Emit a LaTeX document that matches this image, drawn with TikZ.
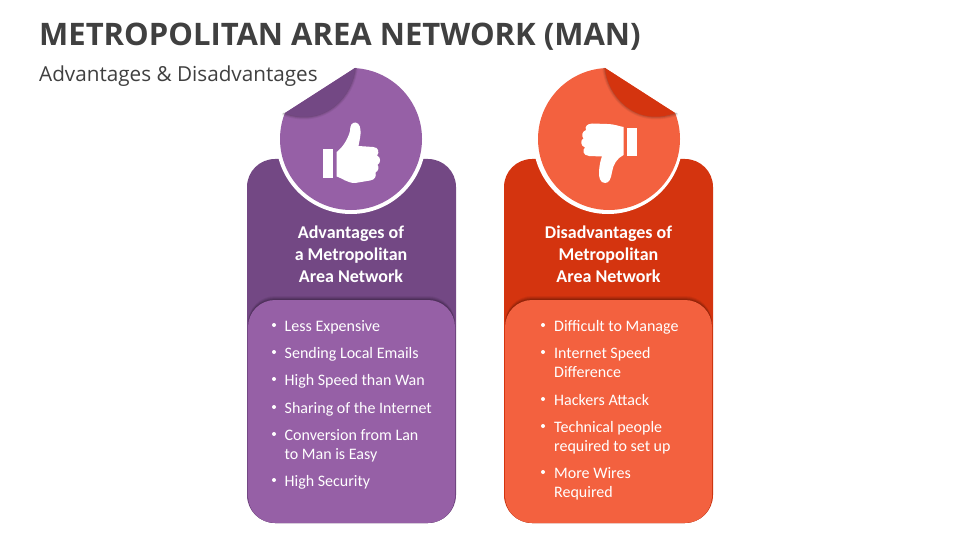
\documentclass[tikz,border=0pt]{standalone}
\usepackage{fontspec}
\setmainfont{Carlito}
\newfontfamily\titlefont{Open Sans}
\usetikzlibrary{calc}
\definecolor{pd}{HTML}{734884}
\definecolor{pl}{HTML}{9660A6}
\definecolor{rd}{HTML}{D4340F}
\definecolor{rl}{HTML}{F3613F}
\definecolor{ink}{HTML}{404040}
\tikzset{
  head/.style={font=\fontsize{18}{22}\selectfont\bfseries,text=white,align=center,inner sep=0pt},
  item/.style={font=\fontsize{16}{19}\selectfont,text=white,align=left,anchor=north west,inner sep=0pt},
  dot/.style={circle,fill=white,inner sep=0pt,minimum size=4pt},
}
\newcommand{\panel}[3]{% x offset, dark, light
  \fill[#2,rounded corners=28pt] (#1+247,159) rectangle (#1+456,523);
  \foreach \w/\o in {4/.06,3/.08,2/.1,1/.12}
    \fill[black,opacity=\o,rounded corners=27pt] (#1+248,300-\w) rectangle (#1+455,523);
  \fill[#3,rounded corners=27pt] (#1+248,300) rectangle (#1+455,523);
  \fill[white] (#1+351,139) circle (75);
}
\begin{document}
\begin{tikzpicture}[x=1pt,y=-1pt]
\useasboundingbox (0,0) rectangle (960,540);
\fill[white] (0,0) rectangle (960,540);
\panel{0}{pd}{pl}
\panel{257}{rd}{rl}
\foreach \sx/\ox/\da/\li in {1/0/pd/pl,-1/960/rd/rl}{
 \begin{scope}[shift={(\ox,0)},xscale=\sx]
  \begin{scope}
   \clip (285,113) -- (355,68) -- (430,60) -- (430,220) -- (270,220) -- (270,113) -- cycle;
   \fill[\li] (351,139) circle (71);
   \foreach \w/\o in {6/.06,4/.08,2/.12}
    \draw[black,opacity=\o,line width=\w pt] (355,66) .. controls (353,95) and (325,128) .. (283,112.5);
  \end{scope}
  \fill[\da] (355,68) .. controls (353,95) and (325,128) .. (285,113) -- cycle;
 \end{scope}
}
\node[anchor=west,inner sep=0pt,text=ink,font=\titlefont\fontsize{31}{36}\selectfont\bfseries] (title) at (39,37) {METROPOLITAN AREA NETWORK (MAN)};
\node[anchor=west,inner sep=0pt,text=ink,font=\titlefont\fontsize{20.7}{24}\selectfont] (sub) at (39,76) {Advantages \& Disadvantages};
% thumb up
\fill[white] (323.3,149.3) rectangle (333.3,177.7);
\fill[white] (336.7,152) .. controls (343,147) and (348,139) .. (350,131) .. controls (350,125) and (352,122.5) .. (355.5,122.5) .. controls (359.5,123) and (361,128) .. (360.5,134) .. controls (360,139) and (359,143) .. (358.5,146) -- (373,147) .. controls (379,147) and (379.5,153) .. (377,155.5) .. controls (381,157) and (381,163) .. (377.5,165) .. controls (379.5,167) and (378.5,171) .. (375.5,172.5) .. controls (376.5,176) and (375,180) .. (370,180.5) -- (355,183) .. controls (347,183) and (342,178) .. (336.7,176.5) -- cycle;
% thumb down
\fill[white] (627,128.3) rectangle (637,156);
\fill[white] (623.5,127) -- (623.5,155) .. controls (617,158) and (613,165) .. (612,172) .. controls (611,179) and (609,183) .. (605,183) .. controls (600,183) and (598.5,177) .. (599,171) .. controls (599.5,165) and (600.5,160) .. (602,156.5) -- (589,156) .. controls (583,155.5) and (582,150) .. (585,147.5) .. controls (580.5,146) and (580,140) .. (583.5,138.5) .. controls (581,136) and (582,131.5) .. (586,130) .. controls (584.5,126.5) and (587,124) .. (592,123.5) -- (607,124) .. controls (614,124) and (618,126) .. (623.5,127) -- cycle;
% headings
\node[head] (h1) at (351,254.5) {Advantages of\\a Metropolitan\\Area Network};
\node[head] (h2) at (608.5,254.5) {Disadvantages of\\Metropolitan\\Area Network};
% left list
\foreach \n/\y/\t in {a/320.5/Less Expensive,b/347.5/Sending Local Emails,c/374.5/High Speed than Wan,d/402.5/Sharing of the Internet,e/429.5/Conversion from Lan\\to Man is Easy,f/475.5/High Security}{
  \node[item] (l\n) at (284.5,\y) {\t};
  \node[dot] (ld\n) at (274,\y+4.5) {};
}
\foreach \n/\y/\t in {a/320.5/Difficult to Manage,b/347.5/Internet Speed\\Difference,c/394.5/Hackers Attack,d/421.5/Technical people\\required to set up,e/467.5/More Wires\\Required}{
  \node[item] (r\n) at (554,\y) {\t};
  \node[dot] (rd\n) at (543,\y+4.5) {};
}
\end{tikzpicture}
\end{document}
